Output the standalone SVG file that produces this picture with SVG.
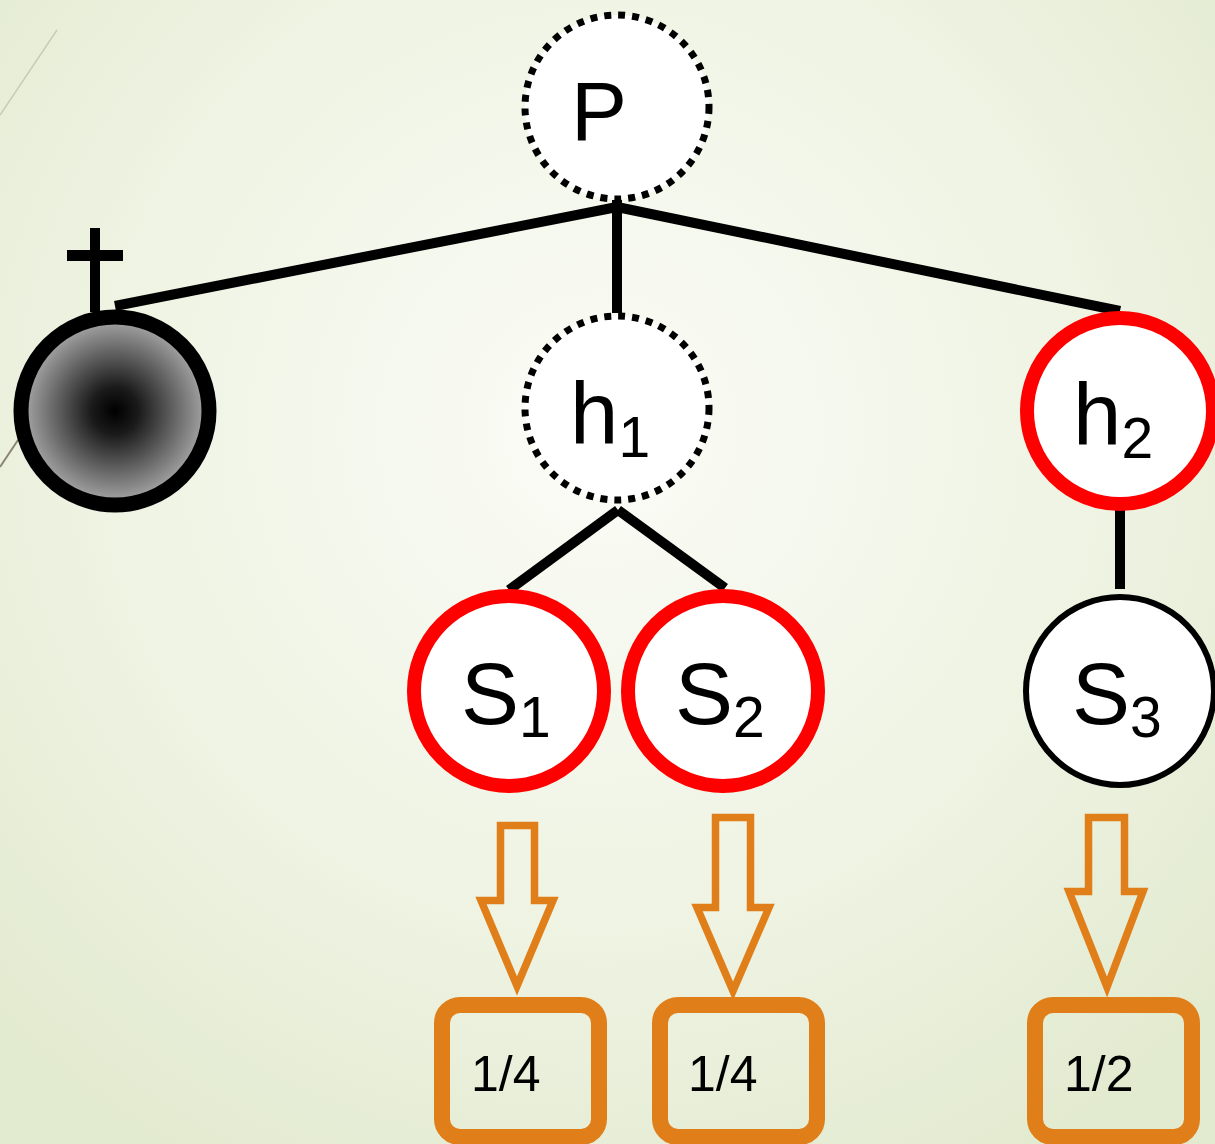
<svg xmlns="http://www.w3.org/2000/svg" width="1215" height="1144" viewBox="0 0 1215 1144">
<defs>
<radialGradient id="bg" cx="600" cy="430" r="850" gradientUnits="userSpaceOnUse">
<stop offset="0" stop-color="#fbfcf7"/>
<stop offset="0.6" stop-color="#eef3e2"/>
<stop offset="1" stop-color="#e2eacf"/>
</radialGradient>
<radialGradient id="ball" cx="0.5" cy="0.5" r="0.5">
<stop offset="0" stop-color="#000"/>
<stop offset="0.25" stop-color="#1a1a1a"/>
<stop offset="1" stop-color="#ababab"/>
</radialGradient>
<style>
.lbl{font-family:"Liberation Sans",Arial,sans-serif;fill:#000}
.big{font-size:87px}
.sub{font-size:57px}
.num{font-size:50px}
.dot{fill:#fff;stroke:#000;stroke-width:7;stroke-dasharray:7 7}
.red{fill:#fff;stroke:#ff0000;stroke-width:14}
.edge{stroke:#000;stroke-width:10;fill:none}
.arr{fill:none;stroke:#e07f1a;stroke-width:7.5;stroke-linejoin:miter}
.box{fill:none;stroke:#e07f1a;stroke-width:16}
</style>
</defs>
<rect width="1215" height="1144" fill="url(#bg)"/>
<line x1="57" y1="30" x2="0" y2="115" stroke="#c9cbb5" stroke-width="1.5"/>
<line x1="18" y1="440" x2="0" y2="467" stroke="#8a8470" stroke-width="2"/>

<g id="connectors">
<line class="edge" x1="617" y1="207" x2="115" y2="306"/>
<line class="edge" x1="617" y1="207" x2="1120" y2="311"/>
<line class="edge" x1="617" y1="200" x2="617" y2="313"/>
<line class="edge" x1="618" y1="510" x2="509" y2="590"/>
<line class="edge" x1="618" y1="510" x2="725" y2="588"/>
<line class="edge" x1="1120" y1="510" x2="1120" y2="589"/>
<path class="arr" d="M500.5,825.5 H534.5 V900.5 H553 L517,986 L481,900.5 H500.5 Z"/>
<path class="arr" d="M715.5,817.5 H750.5 V907.5 H769 L733,991 L697,907.5 H715.5 Z"/>
<path class="arr" d="M1088.5,817.5 H1124.5 V891.5 H1143 L1107,987 L1069,891.5 H1088.5 Z"/>
</g>

<g id="node-P">
<circle class="dot" cx="617" cy="107" r="92"/>
<text class="lbl" x="571" y="140" font-size="84">P</text>
</g>

<g id="node-dead">
<rect x="90" y="228" width="10" height="84" fill="#000"/>
<rect x="67" y="250" width="56" height="11" fill="#000"/>
<circle cx="115" cy="411" r="94" fill="url(#ball)" stroke="#000" stroke-width="15"/>
</g>

<g id="node-h1">
<circle class="dot" cx="617" cy="408" r="92"/>
<text class="lbl big" x="570" y="443">h<tspan class="sub" dy="14">1</tspan></text>
</g>

<g id="node-h2">
<circle class="red" cx="1120" cy="411" r="93"/>
<text class="lbl big" x="1073" y="444">h<tspan class="sub" dy="14">2</tspan></text>
</g>

<g id="node-S1">
<circle class="red" cx="509" cy="691" r="95"/>
<text class="lbl big" x="461" y="724">S<tspan class="sub" dy="13">1</tspan></text>
</g>

<g id="node-S2">
<circle class="red" cx="723" cy="691" r="95"/>
<text class="lbl big" x="675" y="724">S<tspan class="sub" dy="13">2</tspan></text>
</g>

<g id="node-S3">
<circle cx="1120" cy="691" r="94" fill="#fff" stroke="#000" stroke-width="6"/>
<text class="lbl big" x="1072" y="724">S<tspan class="sub" dy="13">3</tspan></text>
</g>

<g id="box-1">
<rect class="box" x="442" y="1005" width="157" height="132" rx="18"/>
<text class="lbl num" x="471" y="1091">1/4</text>
</g>
<g id="box-2">
<rect class="box" x="660" y="1005" width="157" height="132" rx="18"/>
<text class="lbl num" x="688" y="1091">1/4</text>
</g>
<g id="box-3">
<rect class="box" x="1035" y="1005" width="157" height="132" rx="18"/>
<text class="lbl num" x="1064" y="1091">1/2</text>
</g>
</svg>
